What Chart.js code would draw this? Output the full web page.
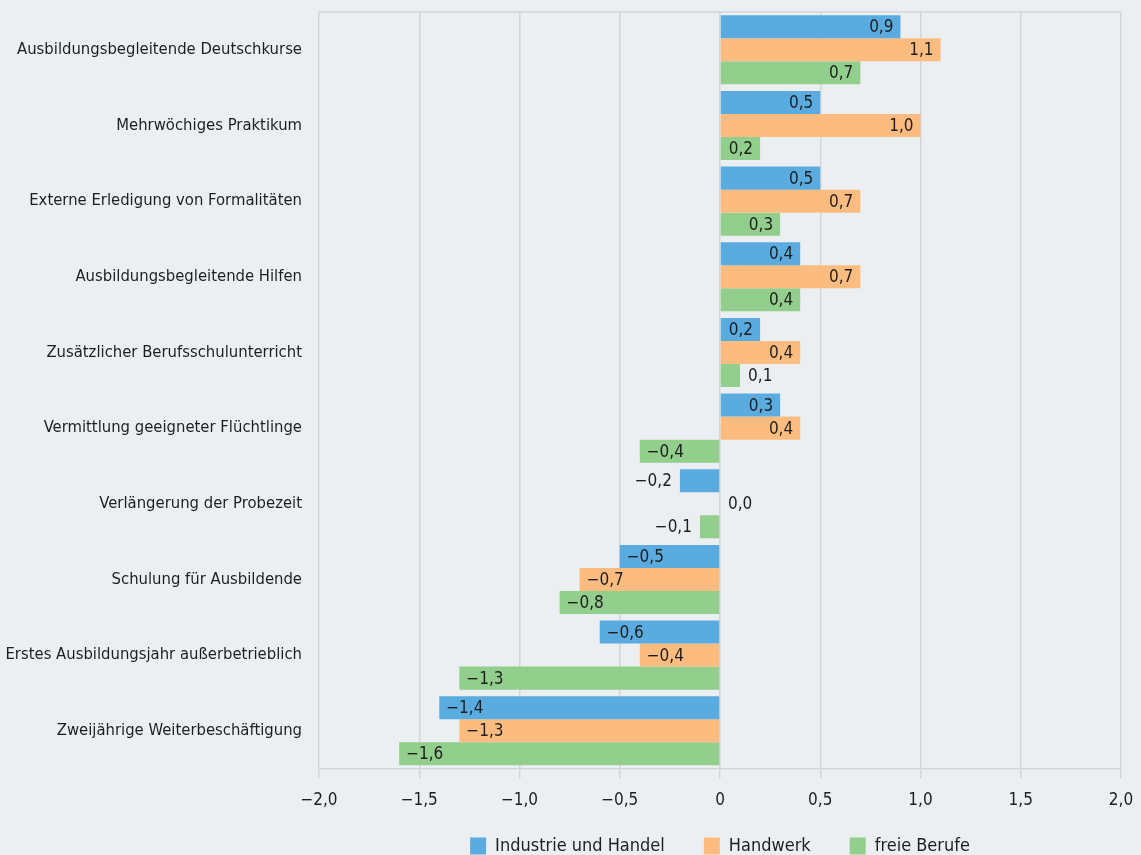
<!DOCTYPE html>
<html><head><meta charset="utf-8">
<script src="https://cdn.jsdelivr.net/npm/chart.js@4.4.1/dist/chart.umd.min.js"></script>
<style>
html,body{margin:0;padding:0;background:#eceff2;}
#wrap{width:1141px;height:855px;position:relative;}
</style></head><body>
<div id="wrap"><canvas id="c" width="1141" height="855"></canvas></div>
<script>
const categories = [
  "Ausbildungsbegleitende Deutschkurse",
  "Mehrwöchiges Praktikum",
  "Externe Erledigung von Formalitäten",
  "Ausbildungsbegleitende Hilfen",
  "Zusätzlicher Berufsschulunterricht",
  "Vermittlung geeigneter Flüchtlinge",
  "Verlängerung der Probezeit",
  "Schulung für Ausbildende",
  "Erstes Ausbildungsjahr außerbetrieblich",
  "Zweijährige Weiterbeschäftigung"
];
const seriesNames = ["Industrie und Handel", "Handwerk", "freie Berufe"];
const industrie = [0.9, 0.5, 0.5, 0.4, 0.2, 0.3, -0.2, -0.5, -0.6, -1.4];
const handwerk  = [1.1, 1.0, 0.7, 0.7, 0.4, 0.4, 0.0, -0.7, -0.4, -1.3];
const freie     = [0.7, 0.2, 0.3, 0.4, 0.1, -0.4, -0.1, -0.8, -1.3, -1.6];
const xTicks = [-2.0, -1.5, -1.0, -0.5, 0, 0.5, 1.0, 1.5, 2.0];

const colors = ["#5aabe0", "#fcbc80", "#92ce8c"];
const FONT = "'DejaVu Sans Condensed', 'DejaVu Sans', sans-serif";
const FS = 16.5;
const FS_VAL = 17;
const FS_LEG = 18;

function fmt(v){
  let s = Math.abs(v).toFixed(1).replace('.', ',');
  return (v < 0 ? '\u2212' : '') + s;
}
function fmtTick(v){
  if (v === 0) return '0';
  let s = Math.abs(v).toFixed(1).replace('.', ',');
  return (v < 0 ? '\u2212' : '') + s;
}

const labelPlugin = {
  id: 'valLabels',
  afterDatasetsDraw(chart){
    const ctx = chart.ctx;
    ctx.save();
    ctx.font = FS_VAL + "px " + FONT;
    ctx.fillStyle = "#1e1e1e";
    ctx.textBaseline = "middle";
    const zeroX = chart.scales.x.getPixelForValue(0);
    chart.data.datasets.forEach((ds, di) => {
      const meta = chart.getDatasetMeta(di);
      meta.data.forEach((bar, i) => {
        const v = ds.data[i];
        const txt = fmt(v);
        const w = ctx.measureText(txt).width;
        const len = Math.abs(bar.x - zeroX);
        if (v > 0) {
          if (len >= w + 12) { ctx.textAlign = "right"; ctx.fillText(txt, bar.x - 7, bar.y + 1); }
          else { ctx.textAlign = "left"; ctx.fillText(txt, bar.x + 8, bar.y + 1); }
        } else if (v < 0) {
          if (len >= w + 12) { ctx.textAlign = "left"; ctx.fillText(txt, bar.x + 7, bar.y + 1); }
          else { ctx.textAlign = "right"; ctx.fillText(txt, bar.x - 8, bar.y + 1); }
        } else {
          ctx.textAlign = "left"; ctx.fillText(txt, zeroX + 8, bar.y + 1);
        }
      });
    });
    ctx.restore();
  }
};

const frameTop = {
  id: 'frameTop',
  beforeDatasetsDraw(chart){
    const {ctx, chartArea} = chart;
    ctx.save();
    ctx.strokeStyle = '#d3d6d9';
    ctx.lineWidth = 1.5;
    ctx.beginPath();
    ctx.moveTo(chartArea.left, chartArea.top);
    ctx.lineTo(chartArea.right, chartArea.top);
    ctx.stroke();
    ctx.restore();
  }
};

// center the legend under the plot area, like the original
const legendPlace = {
  id: 'legendPlace',
  beforeDraw(chart){
    const lg = chart.legend, ca = chart.chartArea;
    if (!lg) return;
    lg.left = ca.left; lg.right = ca.right; lg.width = ca.right - ca.left;
    lg.top = 798; lg.bottom = chart.height; lg.height = lg.bottom - lg.top;
  }
};

new Chart(document.getElementById('c'), {
  type: 'bar',
  data: {
    labels: categories,
    datasets: [
      {label: seriesNames[0], data: industrie, backgroundColor: colors[0]},
      {label: seriesNames[1], data: handwerk, backgroundColor: colors[1]},
      {label: seriesNames[2], data: freie, backgroundColor: colors[2]}
    ]
  },
  options: {
    indexAxis: 'y',
    responsive: false,
    animation: false,
    layout: {padding: {top: 12, right: 20, left: 0, bottom: 0}},
    datasets: {bar: {barPercentage: 1.0, categoryPercentage: 0.913}},
    scales: {
      x: {
        type: 'linear', min: -2, max: 2,
        afterBuildTicks(axis){ axis.ticks = xTicks.map(v => ({value: v})); },
        afterFit(axis){ axis.paddingLeft = 0; axis.paddingRight = 0; },
        grid: {color: '#d3d6d9', lineWidth: 1.5, tickLength: 10, drawOnChartArea: true},
        border: {color: '#d3d6d9', width: 1.5},
        ticks: {
          callback: (v) => fmtTick(v),
          font: {family: FONT, size: FS_VAL}, color: '#1e1e1e', padding: 12, maxRotation: 0
        }
      },
      y: {
        afterFit(axis){ axis.width = 319; axis.paddingTop = 0; axis.paddingBottom = 0; },
        grid: {display: false, drawTicks: false, tickLength: 0},
        border: {display: false},
        ticks: {font: {family: FONT, size: FS}, color: '#1e1e1e', padding: 17}
      }
    },
    plugins: {
      legend: {
        position: 'bottom',
        maxHeight: 32,
        labels: {font: {family: FONT, size: FS_LEG}, color: '#1e1e1e', boxWidth: 16, boxHeight: 17, padding: 39}
      },
      tooltip: {enabled: false}
    }
  },
  plugins: [labelPlugin, frameTop, legendPlace]
});
</script>
</body></html>
